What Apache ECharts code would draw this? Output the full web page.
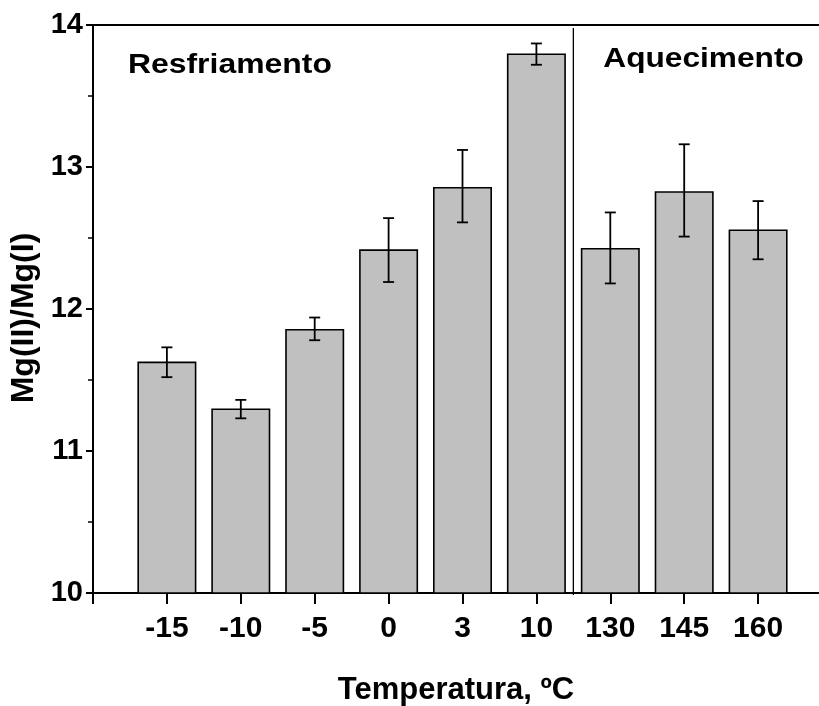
<!DOCTYPE html>
<html>
<head>
<meta charset="utf-8">
<script src="https://cdn.jsdelivr.net/npm/echarts@6/dist/echarts.min.js"></script>
<style>
html,body{margin:0;padding:0;background:#fff;}
#chart{width:819px;height:706px;}
</style>
</head>
<body>
<div id="chart"></div>
<script>
// ---- data ----
const categories = ['-15', '-10', '-5', '0', '3', '10', '130', '145', '160'];
const values = [11.63, 11.30, 11.86, 12.42, 12.86, 13.80, 12.43, 12.83, 12.56];
const errLow = [11.52, 11.23, 11.78, 12.19, 12.61, 13.72, 12.18, 12.51, 12.35];
const errHigh = [11.73, 11.36, 11.94, 12.64, 13.12, 13.87, 12.68, 13.16, 12.76];
const yTicks = [10, 11, 12, 13, 14];
const groupLabels = ['Resfriamento', 'Aquecimento'];
const xTitle = 'Temperatura, ºC';
const yTitle = 'Mg(II)/Mg(I)';

const FONT = 'Liberation Sans, Arial, sans-serif';
const axisCats = [''].concat(categories, ['']);
const barData = [null].concat(values, [null]);
const errData = categories.map((c, i) => [c, errLow[i], errHigh[i]]);

const chart = echarts.init(document.getElementById('chart'), null, {renderer: 'canvas'});
const option = {
  animation: false,
  backgroundColor: '#fff',
  grid: {
    left: 93, top: 25, bottom: 113, right: -13,
    containLabel: false,
    outerBoundsMode: 'none',
    show: true, borderColor: '#000', borderWidth: 2, backgroundColor: 'transparent'
  },
  xAxis: {
    type: 'category',
    data: axisCats,
    boundaryGap: false,
    axisLine: {lineStyle: {color: '#000', width: 2}},
    axisTick: {show: true, length: 11, interval: 0, lineStyle: {color: '#000', width: 2}},
    axisLabel: {interval: 0, color: '#000', fontFamily: FONT, fontWeight: 'bold', fontSize: 30, margin: 21},
    splitLine: {show: false},
    name: xTitle,
    nameLocation: 'middle',
    nameGap: 82,
    nameTextStyle: {color: '#000', fontFamily: FONT, fontWeight: 'bold', fontSize: 31, padding: [0, 13, 0, 0]}
  },
  yAxis: {
    type: 'value',
    min: yTicks[0],
    max: yTicks[yTicks.length - 1],
    interval: 1,
    axisLine: {show: true, lineStyle: {color: '#000', width: 2}},
    axisTick: {show: true, length: 7, lineStyle: {color: '#000', width: 2}},
    minorTick: {show: true, splitNumber: 2, length: 5, lineStyle: {color: '#000', width: 1.5}},
    axisLabel: {color: '#000', fontFamily: FONT, fontWeight: 'bold', fontSize: 29, margin: 10},
    splitLine: {show: false},
    minorSplitLine: {show: false},
    name: yTitle,
    nameLocation: 'middle',
    nameGap: 52,
    nameRotate: 90,
    nameTextStyle: {color: '#000', fontFamily: FONT, fontWeight: 'bold', fontSize: 32, padding: [0, 18, 0, 0]}
  },
  series: [
    {
      type: 'bar',
      data: barData,
      barWidth: 59,
      itemStyle: {color: '#c0c0c0', borderColor: '#000', borderWidth: 1.6},
      z: 2
    },
    {
      type: 'custom',
      data: errData,
      z: 3,
      renderItem: function (params, api) {
        const x = api.coord([api.value(0), api.value(1)])[0];
        const lo = api.coord([api.value(0), api.value(1)])[1];
        const hi = api.coord([api.value(0), api.value(2)])[1];
        const hw = 5.5;
        const st = {stroke: '#000', lineWidth: 1.8};
        return {
          type: 'group',
          children: [
            {type: 'line', shape: {x1: x, y1: lo, x2: x, y2: hi}, style: st},
            {type: 'line', shape: {x1: x - hw, y1: lo, x2: x + hw, y2: lo}, style: st},
            {type: 'line', shape: {x1: x - hw, y1: hi, x2: x + hw, y2: hi}, style: st}
          ]
        };
      }
    }
  ]
};
chart.setOption(option);

// separator between the two groups, placed through the axes' own scales
const xA = chart.convertToPixel({xAxisIndex: 0}, categories[5]);
const xB = chart.convertToPixel({xAxisIndex: 0}, categories[6]);
const sepX = (xA + xB) / 2;
const yTop = chart.convertToPixel({yAxisIndex: 0}, yTicks[yTicks.length - 1]);
const yBot = chart.convertToPixel({yAxisIndex: 0}, yTicks[0]);
const x0 = chart.convertToPixel({xAxisIndex: 0}, categories[0]);

chart.setOption({
  graphic: [
    {type: 'line', shape: {x1: sepX, y1: yTop + 3, x2: sepX, y2: yBot + 2}, style: {stroke: '#000', lineWidth: 1.3}, z: 10},
    {type: 'text', x: x0 - 39, y: yTop + 40, scaleX: 1.14, style: {text: groupLabels[0], fill: '#000', font: 'bold 28px ' + FONT, verticalAlign: 'middle', align: 'left'}, z: 10},
    {type: 'text', x: sepX + 30, y: yTop + 34, scaleX: 1.13, style: {text: groupLabels[1], fill: '#000', font: 'bold 28px ' + FONT, verticalAlign: 'middle', align: 'left'}, z: 10}
  ]
});
</script>
</body>
</html>
